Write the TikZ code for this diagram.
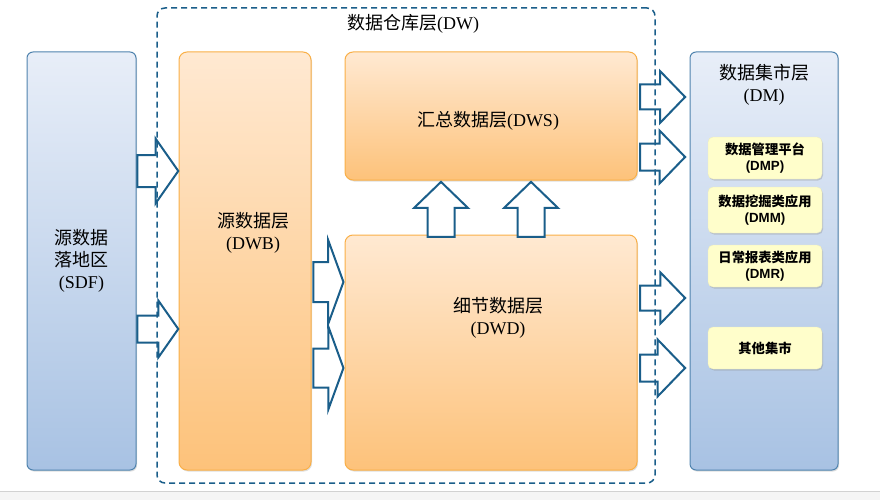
\documentclass[tikz,border=0pt]{standalone}
\usepackage{fontspec}
\setmainfont{Liberation Serif}
\setsansfont{Liberation Sans}
\newfontfamily\cjk{Noto Sans CJK SC}
\usetikzlibrary{calc,positioning,shapes.arrows,shadows}

\definecolor{lineblue}{HTML}{1A5E8A}
\definecolor{boxblue}{HTML}{4F83AE}
\definecolor{bluetop}{HTML}{E8EEF8}
\definecolor{bluebot}{HTML}{A8C2E3}
\definecolor{boxorange}{HTML}{F9AF47}
\definecolor{orangetop}{HTML}{FFE9D2}
\definecolor{orangebot}{HTML}{FDC27A}
\definecolor{appyellow}{HTML}{FFFECB}

\newcommand{\zh}[1]{{\cjk #1}}

\begin{document}
\begin{tikzpicture}[x=1pt, y=-1pt,
    every node/.style={inner sep=0pt, align=center},
    bigtext/.style={font=\fontsize{18}{22}\selectfont},
    smalltext/.style={font=\sffamily\bfseries\fontsize{13.3}{15.5}\selectfont},
    sourcebox/.style={rectangle, draw=boxblue, line width=1pt, rounded corners=6pt,
        top color=bluetop, bottom color=bluebot,
        drop shadow={opacity=0.25, shadow xshift=1pt, shadow yshift=-1.5pt}},
    layerbox/.style={rectangle, draw=boxorange, line width=1pt, rounded corners=8pt,
        top color=orangetop, bottom color=orangebot,
        drop shadow={opacity=0.25, shadow xshift=1pt, shadow yshift=-1.5pt}},
    appbox/.style={rectangle, fill=appyellow, draw=appyellow!85!gray, line width=0.4pt,
        rounded corners=5pt, minimum width=114,
        drop shadow={opacity=0.3, shadow xshift=1pt, shadow yshift=-1.5pt}},
    % length, half shaft, head extend, tip angle
    blockarrow/.style n args={4}{single arrow, draw=lineblue, fill=white,
        line width=2pt, inner xsep=0pt, inner ysep=#2, minimum height=#1,
        minimum width=0pt, single arrow head extend=#3, single arrow tip angle=#4},
    uparrow/.style n args={4}{single arrow, draw=lineblue, fill=white,
        line width=2pt, inner xsep=#2, inner ysep=0pt, minimum height=#1,
        minimum width=0pt, single arrow head extend=#3, single arrow tip angle=#4,
        shape border rotate=90},
]
\useasboundingbox (0,0) rectangle (880,500);

% window strip at the bottom
\fill[gray!8] (0,491) rectangle (880,500);
\draw[gray!35] (0,491) -- (880,491);

% boxes
\node (SDF) [sourcebox, minimum width=109, minimum height=418] at (81.5,261) {};
\node (DWB) [layerbox, minimum width=132, minimum height=418] at (245,261) {};
\node (DWS) [layerbox, minimum width=292, minimum height=128] at (491,116) {};
\node (DWD) [layerbox, minimum width=292, minimum height=235] at (491,352.5) {};
\node (DM) [sourcebox, minimum width=148, minimum height=418] at (764,261) {};

\node (SDFText) [bigtext] at (SDF.center) {\zh{源数据}\\\zh{落地区}\\(SDF)};
\node (DWBText) [bigtext] at ($(DWB.center)+(8,-28)$) {\zh{源数据层}\\(DWB)};
\node (DWSText) [bigtext] at ($(DWS.center)+(-3,5)$) {\zh{汇总数据层}(DWS)};
\node (DWDText) [bigtext] at ($(DWD.center)+(7,-35)$) {\zh{细节数据层}\\(DWD)};
\node (DMText) [bigtext] at (764,85) {\zh{数据集市层}\\(DM)};

% applications in the mart
\node (DMP) [appbox, minimum height=42] at (765,158) {};
\node (DMM) [appbox, minimum height=46] at (765,210) {};
\node (DMR) [appbox, minimum height=42] at (765,266) {};
\node (Other) [appbox, minimum height=42] at (765,348) {};
\node [smalltext] at (DMP.center) {\zh{数据管理平台}\\(DMP)};
\node [smalltext] at (DMM.center) {\zh{数据挖掘类应用}\\(DMM)};
\node [smalltext] at (DMR.center) {\zh{日常报表类应用}\\(DMR)};
\node [smalltext] at (Other.center) {\zh{其他集市}};

% block arrows
\node (Arrow01) [blockarrow={41}{15}{16.5}{110}, anchor=tip] at ($(DWB.west)+(1,-90)$) {};
\node (Arrow02) [blockarrow={41}{12.5}{15}{110}, anchor=tip] at ($(DWB.west)+(1,68)$) {};
\node (Arrow03) [blockarrow={30}{19}{22}{140}, anchor=tip] at ($(DWD.west)+(0,-70.5)$) {};
\node (Arrow04) [blockarrow={30}{18.5}{22}{140}, anchor=tip] at ($(DWD.west)+(0,15.5)$) {};
\node (Arrow05) [uparrow={55}{12.5}{13.5}{92}, anchor=tip] at ($(DWS.south)+(-50,0)$) {};
\node (Arrow06) [uparrow={55}{12.5}{13.5}{92}, anchor=tip] at ($(DWS.south)+(40,0)$) {};
\node (Arrow07) [blockarrow={45}{11.5}{13.5}{92}, anchor=tip] at ($(DM.west)+(-3,-164)$) {};
\node (Arrow08) [blockarrow={45}{12.5}{13}{92}, anchor=tip] at ($(DM.west)+(-3,-104)$) {};
\node (Arrow09) [blockarrow={45}{11.5}{13}{92}, anchor=tip] at ($(DM.west)+(-3,37)$) {};
\node (Arrow10) [blockarrow={45}{12.5}{15}{92}, anchor=tip] at ($(DM.west)+(-3,107)$) {};

% data warehouse frame
\node (DW) [draw=lineblue, line width=1.5pt, dash pattern=on 6pt off 4pt,
    rounded corners=8pt, minimum width=498, minimum height=475] at (406,245.5) {};
\node (DWText) [bigtext] at (413,24) {\zh{数据仓库层}(DW)};
\end{tikzpicture}
\end{document}
